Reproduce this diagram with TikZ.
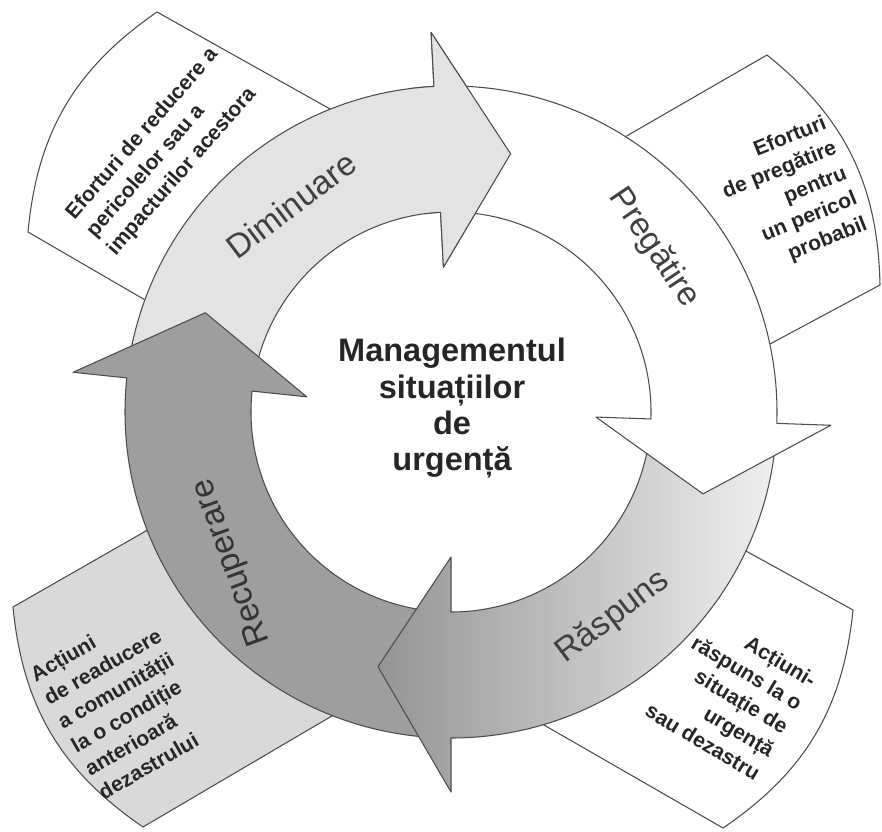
\documentclass[tikz,border=0pt]{standalone}
\usepackage{fontspec}
\setmainfont{Liberation Sans}

% one curved arrow of the cycle: start angle, angle of the head base
\newcommand{\cyclearc}[2]{(#1:326) arc[start angle=#1,end angle=#2,radius=326] -- (#2:380) -- ({#2-16}:265) -- (#2:145) -- (#2:200) arc[start angle=#2,end angle=#1,radius=200] -- cycle}

\begin{document}
\begin{tikzpicture}[x=0.2mm,y=0.2mm,line join=round,
    boxline/.style={draw=black!70,line width=0.6pt},
    ringline/.style={draw=black!70,line width=0.6pt},
    boxtext/.style={inner sep=0pt,text=black!85,font=\fontsize{12}{15.5}\selectfont\bfseries},
    ringtext/.style={inner sep=0pt,text=black!75,font=\fontsize{19}{22}\selectfont},
    centertext/.style={inner sep=0pt,align=center,text=black!85,font=\fontsize{18.5}{20.5}\selectfont\bfseries}]
        \useasboundingbox (-451,-419) rectangle (431,412);
        % boxes behind the ring
        \draw[boxline,fill=white] (-294,400) to[bend right=25] (-423,180) -- (-268,90) -- (-71,275) -- cycle;
        \draw[boxline,fill=white] (316,357) to[bend left=25] (429,127) -- (278,46) -- (134,252) -- cycle;
        \draw[boxline,fill=white] (402,-198) to[bend left=25] (272,-416) -- (53,-290) -- (255,-117) -- cycle;
        \draw[boxline,fill=black!15] (-438,-195) to[bend right=25] (-308,-415) -- (-80,-281) -- (-265,-96) -- cycle;
        \node[boxtext,align=left,rotate=49] (Text_diminuare) at (-288,260) {Eforturi de reducere a\\pericolelor sau a\\impacturilor acestora};
        \node[boxtext,align=right,rotate=22] (Text_pregatire) at (339,216) {Eforturi\\de pregătire\\pentru\\un pericol\\probabil};
        \node[boxtext,align=right,rotate=-31] (Text_raspuns) at (280,-283) {Acțiuni-\\răspuns la o\\situație de\\urgență\\sau dezastru};
        \node[boxtext,align=left,rotate=30] (Text_recuperare) at (-328,-290) {Acțiuni\\de readucere\\a comunității\\la o condiție\\anterioară\\dezastrului};
        % the four arrows
        \draw[ringline,fill=black!11] \cyclearc{170}{93};
        \draw[ringline,fill=black!38] \cyclearc{-94}{-186};
        \draw[ringline,left color=black!42,right color=black!6] \cyclearc{-6}{-90};
        \draw[ringline,fill=white] \cyclearc{89}{-2};
        \begin{scope}
            \clip (0,0) -- (97:420) arc[start angle=97,end angle=70,radius=420] -- cycle;
            \draw[ringline,fill=black!11] \cyclearc{170}{93};
        \end{scope}
        \node[ringtext,rotate=37] (Diminuare) at (-160,207) {Diminuare};
        \node[ringtext,rotate=-56] (Pregatire) at (203,164) {Pregătire};
        \node[ringtext,rotate=37] (Raspuns) at (162,-205) {Răspuns};
        \node[ringtext,rotate=110,text=black!80] (Recuperare) at (-219,-150) {Recuperare};
        \node[centertext] (Management) at (1,4) {Managementul\\situațiilor\\de\\urgență};
    \end{tikzpicture}
\end{document}
